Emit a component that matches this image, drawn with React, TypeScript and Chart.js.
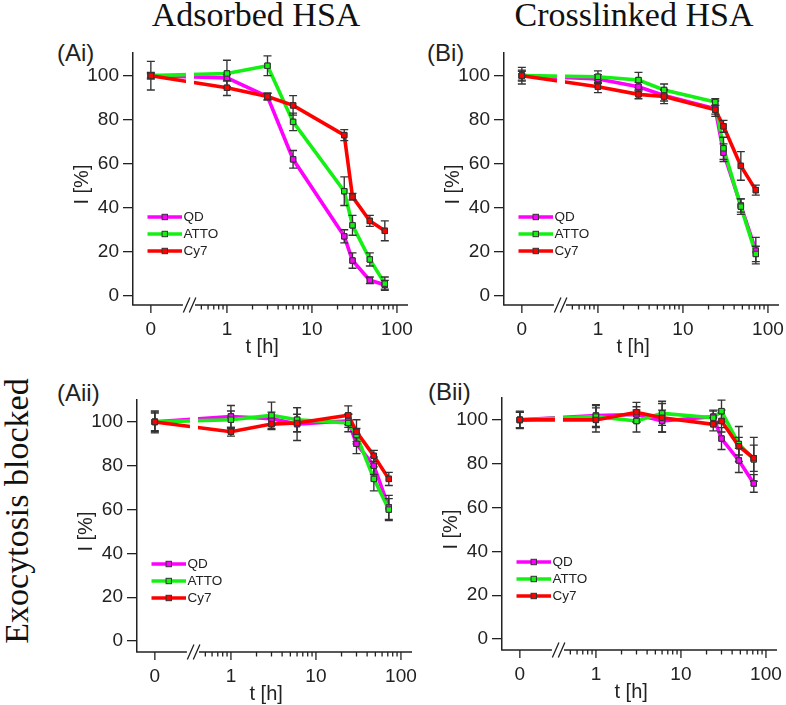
import React, { useEffect, useRef } from 'react';
import { Chart, registerables, LinearScale } from 'chart.js';

Chart.register(...registerables);

// ---------------- data ----------------
const TIMES = [0, 1, 3, 6, 24, 30, 48, 72];
const SERIES_NAMES = ['QD', 'ATTO', 'Cy7'];

// (Ai) adsorbed HSA
const AI_QD = [100, 99, 90.5, 62, 27, 16, 7, 5];
const AI_QD_ERR = [1.5, 1.5, 1.5, 4, 3, 3.5, 1.5, 2];
const AI_ATTO = [100, 101, 104.5, 79, 47.5, 32, 16.5, 5.5];
const AI_ATTO_ERR = [1, 6, 4.5, 4, 6.5, 4.5, 3, 3];
const AI_CY7 = [100, 94.5, 90.5, 86.5, 73, 45, 34, 29.5];
const AI_CY7_ERR = [6.5, 3.5, 1.5, 4.4, 2.5, 1.5, 2.5, 4.5];

// (Bi) crosslinked HSA
const BI_QD = [100, 98.5, 95, 91, 85, 65, 41, 20.5];
const BI_QD_ERR = [2, 2, 2, 2.5, 3.5, 4, 3, 6];
const BI_ATTO = [100, 99.5, 98, 93.5, 88, 67, 40.5, 19];
const BI_ATTO_ERR = [2.5, 2.7, 3.5, 2.7, 1.5, 5, 3.5, 3.5];
const BI_CY7 = [100, 95, 91.5, 90.5, 84.5, 77, 59, 48];
const BI_CY7_ERR = [3.8, 2.7, 2, 3.2, 2, 2.7, 6.5, 2.3];

// (Aii) adsorbed HSA, exocytosis blocked
const AII_QD = [100, 102.5, 101.5, 99, 100.5, 90, 80, 61];
const AII_QD_ERR = [4.5, 5, 3, 7.5, 3, 4.5, 4, 5.5];
const AII_ATTO = [100, 101, 103, 101, 99.5, 94, 74, 60];
const AII_ATTO_ERR = [4, 4, 6, 5.5, 4, 3, 5.5, 5];
const AII_CY7 = [100, 95.5, 99, 99.5, 103, 95.5, 84.5, 74];
const AII_CY7_ERR = [5, 2, 2.5, 4, 4.3, 5.5, 2.5, 3];

// (Bii) crosslinked HSA, exocytosis blocked
const BII_QD = [100, 102, 102.5, 99.5, 101.5, 91.5, 81.5, 71];
const BII_QD_ERR = [3.5, 5, 3.5, 5, 3, 5, 5.5, 4];
const BII_ATTO = [100, 101.5, 99.5, 103, 101, 104, 89, 82];
const BII_ATTO_ERR = [3.5, 5, 5, 5.5, 3, 5, 8, 10];
const BII_CY7 = [100, 100, 103.5, 101, 98, 99.5, 88, 82.5];
const BII_CY7_ERR = [4, 5.5, 4.5, 6.5, 3, 5, 4, 6];

// tick labels
const X_MAJOR = [0, 1, 10, 100];
const X_MINOR = [0.5, 0.6, 0.7, 0.8, 0.9, 2, 3, 4, 5, 6, 7, 8, 9, 20, 30, 40, 50, 60, 70, 80, 90];
const Y_TICKS = [0, 20, 40, 60, 80, 100];

// ---------------- style / layout ----------------
const COLORS = ['#ff00ff', '#14f014', '#ff0000'];
const INK = '#222';
const SANS = "'Liberation Sans', Arial, Helvetica, sans-serif";
const SERIF = "'Liberation Serif', 'Times New Roman', serif";

// broken axis: transformed coordinate u = log10(t), t = 0 placed at ZERO_U
const U_MIN = -1.105;
const U_MAX = 2.13;
const ZERO_U = -0.895;
const DATA_GAP_U = [-0.482, -0.388];
const AXIS_GAP_U = [-0.518, -0.376];
const SLASH_U = [-0.474, -0.404];
const toU = (t: number) => (t <= 0 ? ZERO_U : Math.log10(t));

class BrokenLogScale extends LinearScale {
  static id = 'brokenlog';
  static defaults = {};
  determineDataLimits() {
    (this as any).min = U_MIN;
    (this as any).max = U_MAX;
  }
  buildTicks() {
    const all = [
      ...X_MAJOR.map((v) => ({ value: v, major: true })),
      ...X_MINOR.map((v) => ({ value: v, major: false })),
    ];
    all.sort((a, b) => a.value - b.value);
    return all as any;
  }
  getPixelForValue(value: any) {
    if (value === null || value === undefined || isNaN(value)) return NaN;
    return super.getPixelForValue(toU(value));
  }
  getPixelForU(u: number) {
    return super.getPixelForValue(u);
  }
  getValueForPixel(pixel: number) {
    return Math.pow(10, super.getValueForPixel(pixel) as number);
  }
}
Chart.register(BrokenLogScale as any);

const CHART_W = 275;
const CHART_H = 252;
const PAD_LEFT = 95;
const PAD_TOP = 12;
const PAD_RIGHT = 22;
const PAD_BOTTOM = 58;

type SeriesDef = { values: number[]; errors: number[] };
type PanelDef = { L: number; T: number; yMin: number; yMax: number; series: SeriesDef[] };

const PANELS: PanelDef[] = [
  { L: 133, T: 53, yMin: -4.2, yMax: 110.3, series: [
    { values: AI_QD, errors: AI_QD_ERR }, { values: AI_ATTO, errors: AI_ATTO_ERR }, { values: AI_CY7, errors: AI_CY7_ERR }] },
  { L: 504, T: 53, yMin: -4.2, yMax: 110.3, series: [
    { values: BI_QD, errors: BI_QD_ERR }, { values: BI_ATTO, errors: BI_ATTO_ERR }, { values: BI_CY7, errors: BI_CY7_ERR }] },
  { L: 137, T: 400, yMin: -5, yMax: 110, series: [
    { values: AII_QD, errors: AII_QD_ERR }, { values: AII_ATTO, errors: AII_ATTO_ERR }, { values: AII_CY7, errors: AII_CY7_ERR }] },
  { L: 502, T: 398, yMin: -5, yMax: 110, series: [
    { values: BII_QD, errors: BII_QD_ERR }, { values: BII_ATTO, errors: BII_ATTO_ERR }, { values: BII_CY7, errors: BII_CY7_ERR }] },
];

const decorPlugin = {
  id: 'panelDecor',
  afterDatasetsDraw(chart: any) {
    const { ctx, chartArea: ca, scales } = chart;
    const xs = scales.x;
    const ys = scales.y;
    ctx.save();
    // gap in the data lines at the axis break
    const g1 = xs.getPixelForU(DATA_GAP_U[0]);
    const g2 = xs.getPixelForU(DATA_GAP_U[1]);
    ctx.fillStyle = '#ffffff';
    ctx.fillRect(g1, ca.top, g2 - g1, ca.bottom - ca.top - 1);
    // error bars
    ctx.strokeStyle = '#333';
    ctx.lineWidth = 1.35;
    chart.data.datasets.forEach((ds: any) => {
      const errs: number[] = ds.errors;
      ds.data.forEach((pt: any, j: number) => {
        const e = errs[j];
        const x = xs.getPixelForValue(pt.x);
        const yTop = ys.getPixelForValue(pt.y + e);
        const yBot = ys.getPixelForValue(pt.y - e);
        ctx.beginPath();
        ctx.moveTo(x, yTop);
        ctx.lineTo(x, yBot);
        ctx.moveTo(x - 4, yTop);
        ctx.lineTo(x + 4, yTop);
        ctx.moveTo(x - 4, yBot);
        ctx.lineTo(x + 4, yBot);
        ctx.stroke();
      });
    });
    ctx.restore();
    // markers back on top of the error bars
    chart.data.datasets.forEach((_ds: any, i: number) => {
      const meta = chart.getDatasetMeta(i);
      meta.data.forEach((p: any) => p.draw(ctx, ca));
    });
  },
  afterDraw(chart: any) {
    const { ctx, chartArea: ca, scales } = chart;
    const xs = scales.x;
    const yb = ca.bottom;
    ctx.save();
    // x axis line with break
    ctx.strokeStyle = INK;
    ctx.lineWidth = 1.5;
    const a1 = xs.getPixelForU(AXIS_GAP_U[0]);
    const a2 = xs.getPixelForU(AXIS_GAP_U[1]);
    ctx.beginPath();
    ctx.moveTo(ca.left - 0.75, yb);
    ctx.lineTo(a1, yb);
    ctx.moveTo(a2, yb);
    ctx.lineTo(ca.right, yb);
    ctx.stroke();
    // break slashes
    ctx.lineWidth = 1.3;
    ctx.beginPath();
    SLASH_U.forEach((u) => {
      const c = xs.getPixelForU(u);
      ctx.moveTo(c - 3.3, yb + 7.5);
      ctx.lineTo(c + 3.3, yb - 7.5);
    });
    ctx.stroke();
    // x ticks (major and minor)
    ctx.lineWidth = 1.3;
    ctx.beginPath();
    xs.ticks.forEach((t: any) => {
      const px = xs.getPixelForValue(t.value);
      const len = t.major ? 8 : 4.5;
      ctx.moveTo(px, yb);
      ctx.lineTo(px, yb + len);
    });
    ctx.stroke();
    // legend
    const lx = ca.left + 14.5;
    const ly0 = ca.top + 164;
    ctx.font = `13.5px ${SANS}`;
    ctx.textBaseline = 'middle';
    ctx.textAlign = 'left';
    SERIES_NAMES.forEach((name, i) => {
      const y = ly0 + i * 17;
      ctx.strokeStyle = COLORS[i];
      ctx.lineWidth = 3.5;
      ctx.beginPath();
      ctx.moveTo(lx, y);
      ctx.lineTo(lx + 34.5, y);
      ctx.stroke();
      ctx.fillStyle = COLORS[i];
      ctx.fillRect(lx + 17.25 - 2.7, y - 2.7, 5.4, 5.4);
      ctx.strokeStyle = '#333';
      ctx.lineWidth = 1;
      ctx.strokeRect(lx + 17.25 - 2.7, y - 2.7, 5.4, 5.4);
      ctx.fillStyle = INK;
      ctx.fillText(name, lx + 36, y + 0.5);
    });
    ctx.restore();
  },
};

function Panel({ def }: { def: PanelDef }) {
  const ref = useRef<HTMLCanvasElement | null>(null);
  useEffect(() => {
    if (!ref.current) return;
    const datasets = def.series.map((s, i) => ({
      label: SERIES_NAMES[i],
      data: TIMES.map((t, j) => ({ x: t, y: s.values[j] })),
      errors: s.errors,
      borderColor: COLORS[i],
      backgroundColor: COLORS[i],
      borderWidth: 3.6,
      tension: 0,
      fill: false,
      pointStyle: 'rect',
      pointRadius: 3.8,
      pointBackgroundColor: COLORS[i],
      pointBorderColor: '#333',
      pointBorderWidth: 1,
      order: 2 - i,
    }));
    const chart = new Chart(ref.current, {
      type: 'line',
      data: { datasets } as any,
      options: {
        responsive: false,
        animation: false,
        events: [],
        layout: { padding: { left: 0, top: PAD_TOP, right: PAD_RIGHT, bottom: 0 } },
        plugins: {
          legend: { display: false },
          tooltip: { enabled: false },
          title: { display: false },
        },
        scales: {
          x: {
            type: 'brokenlog' as any,
            position: 'bottom',
            ticks: {
              autoSkip: false,
              maxRotation: 0,
              minRotation: 0,
              padding: 5,
              color: INK,
              font: { size: 19, family: SANS },
              callback: (v: any) => (X_MAJOR.includes(v) ? String(v) : ''),
            },
            grid: {
              drawOnChartArea: false,
              drawTicks: true,
              tickLength: 8,
              tickColor: 'rgba(0,0,0,0)',
              color: 'rgba(0,0,0,0)',
            },
            border: { display: false },
            title: {
              display: true,
              text: 't [h]   ',
              color: INK,
              font: { size: 20, family: SANS },
              padding: { top: 0, bottom: 4 },
            },
            afterFit: (s: any) => {
              s.height = PAD_BOTTOM;
              s.paddingLeft = 0;
              s.paddingRight = 0;
            },
          } as any,
          y: {
            type: 'linear',
            min: def.yMin,
            max: def.yMax,
            bounds: 'data',
            afterBuildTicks: (s: any) => {
              s.ticks = Y_TICKS.map((v) => ({ value: v }));
            },
            ticks: {
              padding: 4,
              color: INK,
              font: { size: 19, family: SANS },
            },
            grid: {
              drawOnChartArea: false,
              drawTicks: true,
              tickLength: 10,
              color: INK,
              lineWidth: 1.3,
            },
            border: { display: true, color: INK, width: 1.5 },
            title: {
              display: true,
              text: 'I [%]  ',
              color: INK,
              font: { size: 20, family: SANS },
              padding: { top: 32.5, bottom: 0 },
            },
            afterFit: (s: any) => {
              s.width = PAD_LEFT;
              s.paddingTop = 0;
              s.paddingBottom = 0;
            },
          } as any,
        },
      },
      plugins: [decorPlugin as any],
    });
    return () => chart.destroy();
  }, [def]);
  return (
    <canvas
      ref={ref}
      width={CHART_W + PAD_LEFT + PAD_RIGHT}
      height={CHART_H + PAD_TOP + PAD_BOTTOM}
      style={{ position: 'absolute', left: def.L - PAD_LEFT, top: def.T - PAD_TOP, width: CHART_W + PAD_LEFT + PAD_RIGHT, height: CHART_H + PAD_TOP + PAD_BOTTOM }}
    />
  );
}

const headStyle: React.CSSProperties = {
  position: 'absolute',
  width: 300,
  textAlign: 'center',
  fontFamily: SERIF,
  fontSize: 34,
  lineHeight: '34px',
  color: '#111',
  whiteSpace: 'nowrap',
};

const labelStyle: React.CSSProperties = {
  position: 'absolute',
  fontFamily: SANS,
  fontSize: 24,
  lineHeight: '24px',
  color: INK,
  whiteSpace: 'nowrap',
};

export default function App() {
  return (
    <div style={{ position: 'absolute', left: 0, top: 0, width: 786, height: 705, background: '#fff', overflow: 'hidden' }}>
      <div style={{ ...headStyle, left: 256 - 150, top: -2.5 }}>Adsorbed HSA</div>
      <div style={{ ...headStyle, left: 634 - 150, top: -2.5 }}>Crosslinked HSA</div>
      <div style={{ ...headStyle, left: 17 - 150, top: 511 - 17, height: 34, transform: 'rotate(-90deg)' }}>Exocytosis blocked</div>
      <div style={{ ...labelStyle, left: 57, top: 40.7 }}>(Ai)</div>
      <div style={{ ...labelStyle, left: 427, top: 40.7 }}>(Bi)</div>
      <div style={{ ...labelStyle, left: 57, top: 380.7 }}>(Aii)</div>
      <div style={{ ...labelStyle, left: 428, top: 379.7 }}>(Bii)</div>
      {PANELS.map((p, i) => (
        <Panel key={i} def={p} />
      ))}
    </div>
  );
}
